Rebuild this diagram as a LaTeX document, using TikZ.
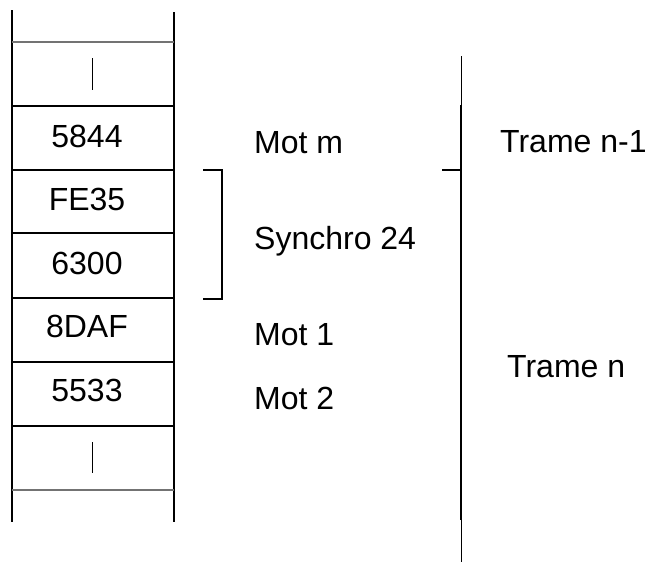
\documentclass[tikz,border=0pt]{standalone}
\usepackage{fontspec}
\setmainfont{Liberation Sans}
\begin{document}
\begin{tikzpicture}[x=1pt,y=-1pt,
  thickline/.style={line width=2pt,black},
  grayline/.style={line width=2pt,black!55},
  thinline/.style={line width=1pt,black},
  lbl/.style={font=\fontsize{32}{38}\selectfont,inner sep=0pt,anchor=base},
  lblw/.style={font=\fontsize{32}{38}\selectfont,inner sep=0pt,anchor=base west}]
\useasboundingbox (0,0) rectangle (649,562);
% column
\coordinate (cl1) at (12,10);
\coordinate (cl2) at (12,522);
\coordinate (cr1) at (174,12);
\coordinate (cr2) at (174,522);
\draw[thickline] (cl1) -- (cl2);
\draw[thickline] (cr1) -- (cr2);
\draw[grayline] (12,42) -- (174,42);
\foreach \yy in {106,170,233,298,362,426} \draw[thickline] (12,\yy) -- (174,\yy);
\draw[grayline] (12,490) -- (174,490);
\draw[thinline] (92,58) -- (92,90);
\draw[thinline] (92,442) -- (92,473);
% cell labels
\node[lbl] (w1) at (87,147) {5844};
\node[lbl] (w2) at (87,210) {FE35};
\node[lbl] (w3) at (87,274) {6300};
\node[lbl] (w4) at (87,337) {8DAF};
\node[lbl] (w5) at (87,401) {5533};
% bracket
\coordinate (b1) at (203,170);
\coordinate (b2) at (222,170);
\coordinate (b3) at (222,299);
\coordinate (b4) at (203,299);
\draw[thickline] (b1) -- (b2) -- (b3) -- (b4);
% middle labels
\node[lblw] (motm) at (254,153) {Mot m};
\node[lblw] (sync) at (254,249) {Synchro 24};
\node[lblw] (mot1) at (254,345) {Mot 1};
\node[lblw] (mot2) at (254,409) {Mot 2};
% right line
\coordinate (r0) at (461,56);
\coordinate (r1) at (461,105);
\coordinate (r2) at (461,520);
\coordinate (r3) at (461,562);
\coordinate (rt) at (442,170);
\coordinate (rm) at (461,170);
\draw[thinline] (r0) -- (r1);
\draw[thickline] (r1) -- (r2);
\draw[thinline] (r2) -- (r3);
\draw[thickline] (rt) -- (rm);
\node[lblw] (tn1) at (500,152) {Trame n-1};
\node[lblw] (tn) at (507,377) {Trame n};
\end{tikzpicture}
\end{document}
